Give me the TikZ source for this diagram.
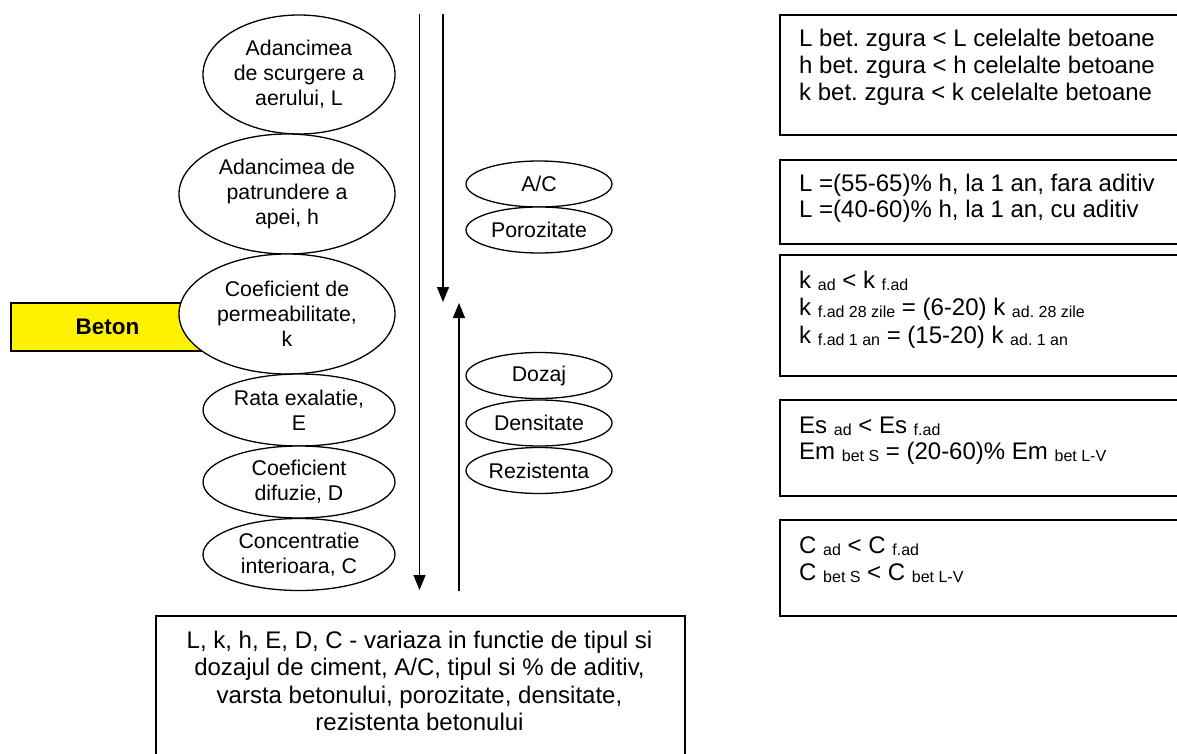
\documentclass[tikz,border=0pt]{standalone}
\usepackage{fontspec}
\setmainfont{Liberation Sans}
\usetikzlibrary{shapes.geometric,arrows.meta}
% small lowered index text
\newcommand{\ix}[1]{{\fontsize{16}{16}\selectfont\raisebox{-2.5pt}{#1}}}
\frenchspacing

\begin{document}
\begin{tikzpicture}[x=1pt,y=-1pt,
  oval/.style={ellipse, draw, fill=white, line width=1.3pt, inner sep=-3pt,
    align=center, font=\fontsize{21.3}{25}\selectfont},
  bigoval/.style={oval, minimum width=216pt, minimum height=120pt},
  midoval/.style={oval, minimum width=192pt, minimum height=72pt},
  smalloval/.style={oval, minimum width=146pt, minimum height=46pt},
  panel/.style={draw, line width=2pt, anchor=north west, inner sep=0pt, minimum width=411pt},
  row/.style={anchor=base west, inner sep=0pt, font=\fontsize{24}{27}\selectfont},
  flow/.style={line width=1.3pt, -{Triangle[length=15pt,width=12pt]}}]

\useasboundingbox (0,0) rectangle (1177,754);
\begin{scope}
\clip (0,0) rectangle (1177,754);

% yellow label box, partly under the permeability oval
\node[draw, line width=2pt, fill=yellow, minimum width=193pt, minimum height=48pt,
  inner sep=0pt, font=\fontsize{22.5}{27}\selectfont\bfseries] (beton) at (107.5,327) {Beton};

% left column of properties
\node[oval, minimum width=192pt, minimum height=119pt] (L) at (299,74.5) {Adancimea\\de scurgere a\\aerului, L};
\node[bigoval] (h) at (287,194) {Adancimea de\\patrundere a\\apei, h};
\node[bigoval] (k) at (287,314) {Coeficient de\\permeabilitate,\\k};
\node[midoval] (E) at (299,410) {Rata exalatie,\\E};
\node[midoval] (D) at (299,482) {Coeficient\\difuzie, D};
\node[midoval] (C) at (299,554.5) {Concentratie\\interioara, C};

% right column of factors
\node[smalloval] (ac) at (539,184) {A/C};
\node[smalloval] (por) at (539,230) {Porozitate};
\node[smalloval] (doz) at (539,375.5) {Dozaj};
\node[smalloval] (dens) at (539,423) {Densitate};
\node[smalloval] (rez) at (539,470.5) {Rezistenta};

% trend arrows
\coordinate (a1s) at (419.5,14);  \coordinate (a1e) at (419.5,590);
\coordinate (a2s) at (443,14);    \coordinate (a2e) at (443,302);
\coordinate (a3s) at (459,591);   \coordinate (a3e) at (459,303);
\draw[flow] (a1s) -- (a1e);
\draw[flow] (a2s) -- (a2e);
\draw[flow] (a3s) -- (a3e);

% summary box
\node[panel, minimum width=529pt, minimum height=160pt] (note) at (155,615) {};
\node[anchor=north, inner sep=0pt, align=center, font=\fontsize{24}{27.6}\selectfont] (notetxt) at (419.5,630.5)
  {L, k, h, E, D, C - variaza in functie de tipul si\\dozajul de ciment, A/C, tipul si \% de aditiv,\\varsta betonului, porozitate, densitate,\\rezistenta betonului};

% comparison panels
\node[panel, minimum height=120pt] (p1) at (779,14) {};
\node[panel, minimum height=84pt]  (p2) at (779,159) {};
\node[panel, minimum height=121pt] (p3) at (779,254) {};
\node[panel, minimum height=96pt]  (p4) at (779,399) {};
\node[panel, minimum height=96pt]  (p5) at (779,519) {};

\node[row] (p1a) at (799,47)  {L bet. zgura < L celelalte betoane};
\node[row] (p1b) at (799,74)  {h bet. zgura < h celelalte betoane};
\node[row] (p1c) at (799,101) {k bet. zgura < k celelalte betoane};

\node[row] (p2a) at (799,192) {L =(55-65)\% h, la 1 an, fara aditiv};
\node[row] (p2b) at (799,218) {L =(40-60)\% h, la 1 an, cu aditiv};

\node[row] (p3a) at (799,288) {k \ix{ad} < k \ix{f.ad}};
\node[row] (p3b) at (799,315) {k \ix{f.ad 28 zile} = (6-20) k \ix{ad. 28 zile}};
\node[row] (p3c) at (799,343) {k \ix{f.ad 1 an} = (15-20) k \ix{ad. 1 an}};

\node[row] (p4a) at (799,433) {Es \ix{ad} < Es \ix{f.ad}};
\node[row] (p4b) at (799,459) {Em \ix{bet S} = (20-60)\% Em \ix{bet L-V}};

\node[row] (p5a) at (799,553) {C \ix{ad} < C \ix{f.ad}};
\node[row] (p5b) at (799,580) {C \ix{bet S} < C \ix{bet L-V}};
\end{scope}
\end{tikzpicture}
\end{document}
